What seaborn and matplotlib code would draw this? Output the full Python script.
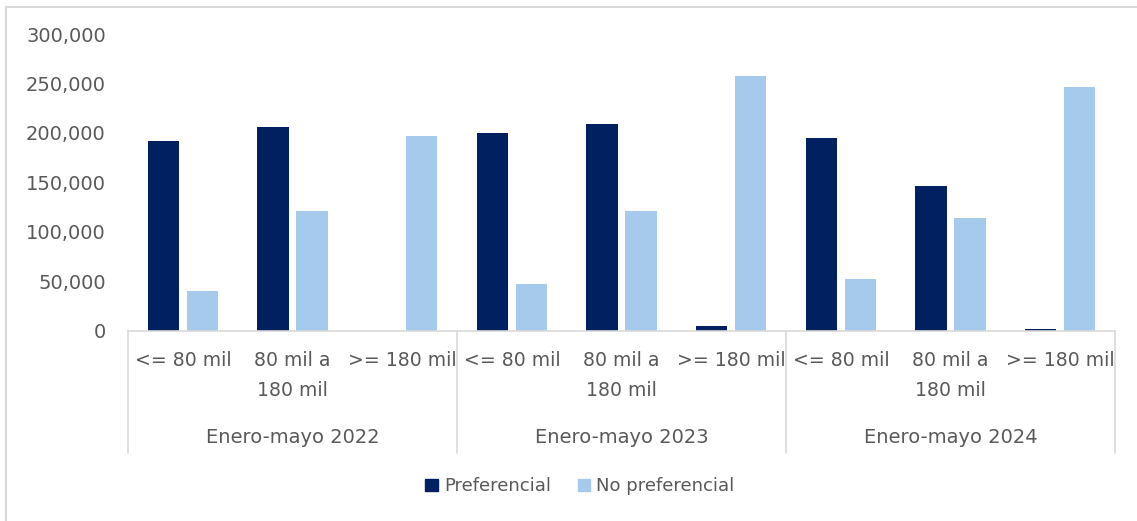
import matplotlib
matplotlib.use("Agg")
import matplotlib.pyplot as plt
import seaborn as sns
import pandas as pd
from matplotlib.lines import Line2D
from matplotlib.ticker import FuncFormatter

periods = ["Enero-mayo 2022", "Enero-mayo 2023", "Enero-mayo 2024"]
ranges = ["<= 80 mil", "80 mil a\n180 mil", ">= 180 mil"]
series = ["Preferencial", "No preferencial"]
preferencial = [191400, 206300, 0, 200200, 208900, 4200, 194400, 146300, 1500]
no_preferencial = [39600, 120700, 196500, 47300, 121000, 257400, 52000, 114000, 246700]
y_ticks = [0, 50000, 100000, 150000, 200000, 250000, 300000]

colors = {"Preferencial": "#002060", "No preferencial": "#A6CAEC"}
text_color = "#595959"
line_color = "#D9D9D9"

keys = [f"{p}|{r}" for p in periods for r in ranges]
rows = []
for k, v in zip(keys, preferencial):
    rows.append({"cat": k, "serie": "Preferencial", "valor": v})
for k, v in zip(keys, no_preferencial):
    rows.append({"cat": k, "serie": "No preferencial", "valor": v})
df = pd.DataFrame(rows)

sns.set_style("white")
plt.rcParams["font.family"] = ["DejaVu Sans"]

fig = plt.figure(figsize=(11.37, 5.21), dpi=100)
ax = fig.add_axes([128 / 1137, 1 - 330.5 / 521, (1115 - 128) / 1137, (330.5 - 34) / 521])

sns.barplot(data=df, x="cat", y="valor", hue="serie", order=keys, hue_order=series,
            palette=colors, width=0.71, gap=0.2, ax=ax, legend=False,
            saturation=1, errorbar=None, edgecolor="none")

ax.set_xlim(-0.5, len(keys) - 0.5)
ax.set_ylim(0, 300000)
ax.set_yticks(y_ticks)
ax.yaxis.set_major_formatter(FuncFormatter(lambda v, p: f"{int(v):,}"))
ax.tick_params(axis="y", length=0, pad=16, labelsize=14, labelcolor=text_color)
ax.set_xticks(range(len(keys)))
ax.set_xticklabels([r for p in periods for r in ranges], linespacing=1.7)
ax.tick_params(axis="x", length=0, pad=15, labelsize=13.6, labelcolor=text_color)
ax.set_xlabel("")
ax.set_ylabel("")
for s in ["top", "right", "left"]:
    ax.spines[s].set_visible(False)
ax.spines["bottom"].set_color(line_color)
ax.spines["bottom"].set_linewidth(1.2)

tr = ax.get_xaxis_transform()
for i, p in enumerate(periods):
    ax.text(i * 3 + 1, -0.36, p, transform=tr, ha="center", va="center",
            fontsize=14, color=text_color)
for b in [-0.5, 2.5, 5.5, 8.5]:
    ax.add_line(Line2D([b, b], [0, -0.413], transform=tr, color=line_color,
                       lw=1.2, clip_on=False))

handles = [plt.Rectangle((0, 0), 1, 1, color=colors[s]) for s in series]
fig.legend(handles, series, loc="center", bbox_to_anchor=(580 / 1137, 1 - 486 / 521),
           ncol=2, frameon=False, fontsize=13, handlelength=0.67, handleheight=0.67,
           handletextpad=0.35, columnspacing=1.5, labelcolor=text_color)

# chart border (left and top edges visible)
fig.add_artist(Line2D([5.5 / 1137, 5.5 / 1137], [0, 1 - 6.5 / 521], color=line_color, lw=1.5))
fig.add_artist(Line2D([5.5 / 1137, 1], [1 - 6.5 / 521, 1 - 6.5 / 521], color=line_color, lw=1.5))

fig.savefig("out.png", dpi=100)
